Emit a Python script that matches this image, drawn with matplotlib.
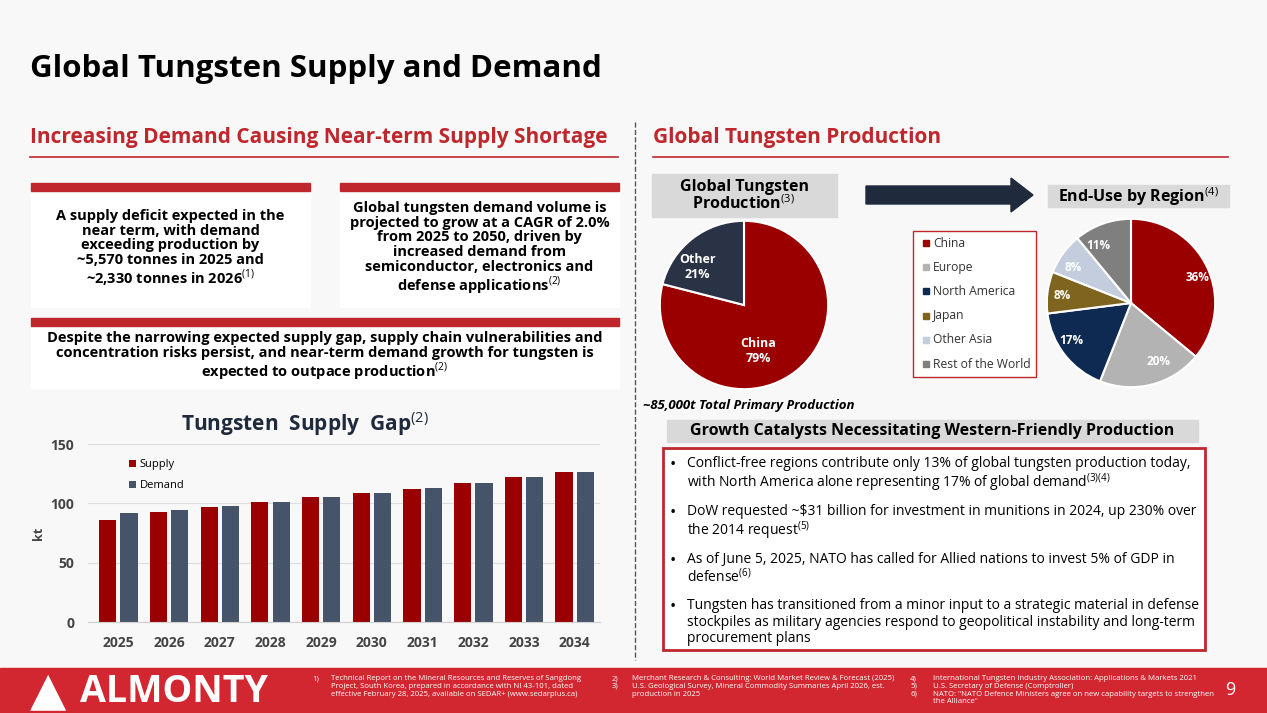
import matplotlib.pyplot as plt
import matplotlib.patches as mpatches
import numpy as np

W, H = 1267, 713
RED = '#9b0000'
SLATE = '#46546a'
DARK = '#1f2a3c'

years = ['2025', '2026', '2027', '2028', '2029', '2030', '2031', '2032', '2033', '2034']
supply = [86, 92.5, 97, 101, 105, 109, 112, 117.5, 122, 126.5]
demand = [91.5, 94.5, 98, 101.5, 105, 109, 113, 117.5, 122, 126.5]

prod_labels = ['China', 'Other']
prod_vals = [79, 21]
prod_colors = ['#9b0000', '#2a3346']

region_labels = ['China', 'Europe', 'North America', 'Japan', 'Other Asia', 'Rest of the World']
region_vals = [36, 20, 17, 8, 8, 11]
region_colors = ['#9b0000', '#b3b3b3', '#0e2a52', '#7f6420', '#c3cddd', '#7f7f7f']

bullets = [
    'Conflict-free regions contribute only 13% of global tungsten production today,\nwith North America alone representing 17% of global demand$^{(3)(4)}$',
    'DoW requested ~$31 billion for investment in munitions in 2024, up 230% over\nthe 2014 request$^{(5)}$',
    'As of June 5, 2025, NATO has called for Allied nations to invest 5% of GDP in\ndefense$^{(6)}$',
    'Tungsten has transitioned from a minor input to a strategic material in defense\nstockpiles as military agencies respond to geopolitical instability and long-term\nprocurement plans',
]

plt.rcParams['font.family'] = ['Open Sans', 'DejaVu Sans']
plt.rcParams['mathtext.fontset'] = 'custom'
plt.rcParams['mathtext.rm'] = 'Open Sans'
fig = plt.figure(figsize=(W / 100, H / 100), dpi=100, facecolor='#f8f8f8')


def ax_px(x, y, w, h):
    return fig.add_axes([x / W, 1 - (y + h) / H, w / W, h / H])


def txt(x, y, s, **kw):
    fig.text(x / W, 1 - y / H, s, **kw)


def rect(x, y, w, h, **kw):
    fig.patches.append(mpatches.Rectangle((x / W, 1 - (y + h) / H), w / W, h / H,
                                          transform=fig.transFigure, figure=fig, **kw))


def hline(x0, x1, y, **kw):
    fig.add_artist(plt.Line2D([x0 / W, x1 / W], [1 - y / H, 1 - y / H], **kw))


txt(30, 69, 'Global Tungsten Supply and Demand', fontsize=22.5, weight='bold', va='center')
txt(30, 137, 'Increasing Demand Causing Near-term Supply Shortage', fontsize=15, weight='bold',
    color='#c0272d', va='center')
hline(30, 618, 157, color='#c0272d', lw=1.2)
txt(653, 137, 'Global Tungsten Production', fontsize=15, weight='bold', color='#c0272d', va='center')
hline(653, 1228, 157, color='#c0272d', lw=1.2)
fig.add_artist(plt.Line2D([635 / W, 635 / W], [1 - 122 / H, 1 - 660 / H], color='#555555', lw=1, ls='--'))

# text boxes
for x, y, w, h, s in [
    (31, 183, 279, 124, 'A supply deficit expected in the\nnear term, with demand\nexceeding production by\n~5,570 tonnes in 2025 and\n~2,330 tonnes in 2026$^{(1)}$'),
    (340, 183, 279, 124, 'Global tungsten demand volume is\nprojected to grow at a CAGR of 2.0%\nfrom 2025 to 2050, driven by\nincreased demand from\nsemiconductor, electronics and\ndefense applications$^{(2)}$'),
    (31, 318, 588, 70, 'Despite the narrowing expected supply gap, supply chain vulnerabilities and\nconcentration risks persist, and near-term demand growth for tungsten is\nexpected to outpace production$^{(2)}$'),
]:
    rect(x, y, w, h, color='white', zorder=0)
    rect(x, y, w, 8, color='#c0272d', zorder=1)
    txt(x + w / 2, y + 4 + h / 2, s, ha='center', va='center', fontsize=10.5, weight='bold',
        linespacing=1.05)

# bar chart
ax = ax_px(88, 444, 512, 178)
ax.set_facecolor('#f8f8f8')
x = np.arange(len(years))
ax.bar(x - 0.21, supply, 0.34, color=RED, label='Supply', zorder=2)
ax.bar(x + 0.21, demand, 0.34, color=SLATE, label='Demand', zorder=2)
ax.set_xticks(x, years)
ax.set_ylim(0, 150)
ax.set_yticks([0, 50, 100, 150])
ax.set_xlim(-0.6, 9.5)
ax.grid(axis='y', color='#dddddd', zorder=0)
for sp in ['top', 'right', 'left']:
    ax.spines[sp].set_visible(False)
ax.spines['bottom'].set_color('#d0d0d0')
ax.tick_params(length=0, labelsize=10, labelcolor='#444444', pad=10)
for t in ax.get_xticklabels() + ax.get_yticklabels():
    t.set_fontweight('bold')
ax.set_ylabel('kt', fontsize=9, weight='bold', color='#444444')
ax.legend(loc='upper left', bbox_to_anchor=(0.06, 0.97), frameon=False, fontsize=8,
          handlelength=0.7, handleheight=0.7, handletextpad=0.3, labelspacing=0.9)
txt(305, 424, 'Tungsten  Supply  Gap$^{(2)}$', ha='center', va='center', fontsize=15, weight='bold',
    color='#1f2a3c')

# production pie
rect(652, 174, 185, 43, color='#d9d9d9', zorder=0)
txt(744, 196, 'Global Tungsten\nProduction$^{(3)}$', ha='center', va='center', fontsize=11.5,
    weight='bold', linespacing=1.0)
ax1 = ax_px(659, 220, 170, 170)
ax1.pie(prod_vals, colors=prod_colors, startangle=90, counterclock=False,
        wedgeprops=dict(edgecolor='white', linewidth=1.5))
ax1.set_xlim(-1.01, 1.01)
ax1.set_ylim(-1.01, 1.01)
ax1.text(0.17, -0.55, 'China\n79%', ha='center', va='center', color='white', fontsize=9, weight='bold')
ax1.text(-0.55, 0.45, 'Other\n21%', ha='center', va='center', color='white', fontsize=9, weight='bold')
txt(643, 405, '~85,000t Total Primary Production', fontsize=9.5, weight='bold', style='italic', va='center')

fig.add_artist(mpatches.FancyArrow(866 / W, 1 - 195 / H, 145 / W, 0, width=18 / H,
                                   head_width=34 / H, head_length=22 / W, color=DARK,
                                   transform=fig.transFigure))

# region pie
rect(1048, 185, 181, 22, color='#d9d9d9', zorder=0)
txt(1138, 197, 'End-Use by Region$^{(4)}$', ha='center', va='center', fontsize=11.5, weight='bold')
ax2 = ax_px(1046, 218, 170, 170)
ax2.pie(region_vals, colors=region_colors, startangle=90, counterclock=False,
        labels=[f'{v}%' for v in region_vals], labeldistance=0.72,
        textprops=dict(color='white', fontsize=8.5, weight='bold'),
        wedgeprops=dict(edgecolor='white', linewidth=1.5))
ax2.set_xlim(-1.01, 1.01)
ax2.set_ylim(-1.01, 1.01)
rect(913, 231, 123, 146, color='white', ec='#c0272d', lw=1, zorder=0)
for i, (lab, c) in enumerate(zip(region_labels, region_colors)):
    yy = 243 + i * 24.2
    rect(923, yy - 3, 6, 6, color=c, zorder=2)
    txt(933, yy, lab, va='center', fontsize=8.7, color='#333333')

# catalysts
rect(667, 420, 531, 22, color='#d9d9d9', zorder=0)
txt(932, 431, 'Growth Catalysts Necessitating Western-Friendly Production', ha='center', va='center',
    fontsize=11.5, weight='bold')
rect(663, 448, 542, 202, color='white', ec='#c0272d', lw=2, zorder=0)
by = [465, 513, 561, 607]
for yy, b in zip(by, bullets):
    txt(670, yy, '•', fontsize=12, va='center')
    txt(687, yy - 9, b, fontsize=10, va='top', linespacing=1.0 if '$' in b else 1.15)

# footer
rect(0, 668, W, 45, color='#d22630', zorder=0)
txt(30, 692, '▲', fontsize=34, color='white', va='center', weight='bold')
txt(80, 692, 'ALMONTY', fontsize=27, color='white', va='center', weight='bold')
lk = dict(fontsize=5.6, color='white', va='top', linespacing=1.15)
txt(312, 675, '1)', **lk)
txt(331, 675, 'Technical Report on the Mineral Resources and Reserves of Sangdong\nProject, South Korea, prepared in accordance with NI 43-101, dated\neffective February 28, 2025, available on SEDAR+ (www.sedarplus.ca)', **lk)
txt(612, 675, '2)\n3)', **lk)
txt(632, 675, 'Merchant Research & Consulting: World Market Review & Forecast (2025)\nU.S. Geological Survey, Mineral Commodity Summaries April 2026, est.\nproduction in 2025', **lk)
txt(910, 675, '4)\n5)\n6)', **lk)
txt(933, 675, 'International Tungsten Industry Association: Applications & Markets 2021\nU.S. Secretary of Defense (Comptroller)\nNATO: "NATO Defence Ministers agree on new capability targets to strengthen\nthe Alliance"', **lk)
txt(1230, 690, '9', fontsize=13, color='white', va='center', ha='center')

fig.savefig('out.png', dpi=100, facecolor=fig.get_facecolor())
